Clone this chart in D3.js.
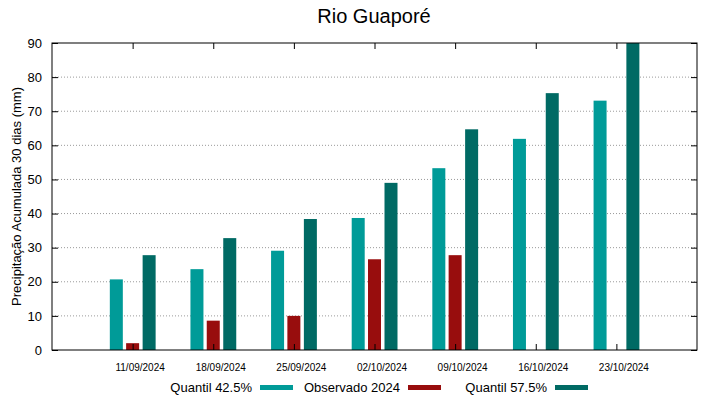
<!DOCTYPE html>
<html>
<head>
<meta charset="utf-8">
<script src="https://cdn.jsdelivr.net/npm/d3@7"></script>
<style>
  body { margin: 0; background: #fff; }
  text { font-family: "Liberation Sans", Arial, sans-serif; fill: #000; }
</style>
</head>
<body>
<script>
// categorias (datas) e séries
const datas = ['11/09/2024', '18/09/2024', '25/09/2024', '02/10/2024', '09/10/2024', '16/10/2024', '23/10/2024']
const quantil425 = [20.7, 23.7, 29.1, 38.7, 53.3, 61.9, 73.1]
const observado = [2.0, 8.6, 10.0, 26.6, 27.8, null, null]
const quantil575 = [27.8, 32.8, 38.4, 49.0, 64.7, 75.3, 90.0]
const yTicks = [0, 10, 20, 30, 40, 50, 60, 70, 80, 90]

const series = [
  { nome: 'Quantil 42.5%', valores: quantil425, cor: '#009b98', off: -16.3 },
  { nome: 'Observado 2024', valores: observado, cor: '#980d0d', off: 0 },
  { nome: 'Quantil 57.5%', valores: quantil575, cor: '#006a64', off: 16.5 },
]

const width = 719
const height = 399
const m = { left: 52, right: 22, top: 43, bottom: 49 }

const svg = d3.select('body').append('svg').attr('width', width).attr('height', height)

const x = d3.scaleLinear().domain([-1, 7]).range([m.left, width - m.right])
const y = d3.scaleLinear().domain([0, 90]).range([height - m.bottom, m.top])

const clip = svg.append('clipPath').attr('id', 'clip')
  .append('rect')
  .attr('x', m.left).attr('y', m.top)
  .attr('width', width - m.left - m.right).attr('height', height - m.top - m.bottom)

// grade pontilhada
svg.append('g')
  .selectAll('line')
  .data(yTicks.filter((t) => t > 0 && t < 90))
  .enter()
  .append('line')
  .attr('x1', m.left).attr('x2', width - m.right)
  .attr('y1', (d) => y(d)).attr('y2', (d) => y(d))
  .attr('stroke', '#9a9a9a')
  .attr('stroke-width', 1)
  .attr('stroke-dasharray', '1,2')

// barras
const bw = 13
series.forEach((s) => {
  svg.append('g')
    .attr('clip-path', 'url(#clip)')
    .selectAll('rect')
    .data(s.valores.map((v, i) => ({ v, i })).filter((d) => d.v != null))
    .enter()
    .append('rect')
    .attr('x', (d) => x(d.i) + s.off - bw / 2)
    .attr('width', bw)
    .attr('y', (d) => y(d.v))
    .attr('height', (d) => y(0) - y(d.v))
    .attr('fill', s.cor)
})

// eixos
const yLeft = svg.append('g')
  .attr('transform', `translate(${m.left},0)`)
  .call(d3.axisLeft(y).tickValues(yTicks).tickSize(-6).tickPadding(10))
const yRight = svg.append('g')
  .attr('transform', `translate(${width - m.right},0)`)
  .call(d3.axisRight(y).tickValues(yTicks).tickSize(-6).tickFormat(''))
const xBottom = svg.append('g')
  .attr('transform', `translate(0,${height - m.bottom})`)
  .call(d3.axisBottom(x).tickValues(d3.range(datas.length)).tickSize(-6).tickFormat((i) => datas[i]).tickPadding(14))
const xTop = svg.append('g')
  .attr('transform', `translate(0,${m.top})`)
  .call(d3.axisTop(x).tickValues(d3.range(datas.length)).tickSize(-6).tickFormat(''))

;[yLeft, yRight, xBottom, xTop].forEach((g) => {
  g.select('.domain').remove()
  g.selectAll('line').attr('stroke', '#000')
})
yLeft.selectAll('text').attr('font-size', 13).style('font-family', '"Liberation Sans", Arial, sans-serif')
xBottom.selectAll('text').attr('font-size', 10).attr('dx', 7).style('font-family', '"Liberation Sans", Arial, sans-serif')

// moldura
svg.append('rect')
  .attr('x', m.left).attr('y', m.top)
  .attr('width', width - m.left - m.right).attr('height', height - m.top - m.bottom)
  .attr('fill', 'none').attr('stroke', '#000').attr('stroke-width', 1)

// título
svg.append('text')
  .attr('x', 374).attr('y', 23)
  .attr('text-anchor', 'middle')
  .attr('font-size', 20)
  .text('Rio Guaporé')

svg.append('text')
  .attr('transform', `translate(21,${(m.top + height - m.bottom) / 2}) rotate(-90)`)
  .attr('text-anchor', 'middle')
  .attr('font-size', 13)
  .text('Precipitação Acumulada 30 dias (mm)')

// legenda
const legX = [252, 400, 547]
series.forEach((s, i) => {
  svg.append('text')
    .attr('x', legX[i]).attr('y', 392)
    .attr('text-anchor', 'end')
    .attr('font-size', 13)
    .text(s.nome)
  svg.append('rect')
    .attr('x', legX[i] + 8).attr('y', 385)
    .attr('width', 33).attr('height', 5)
    .attr('fill', s.cor)
})
</script>
</body>
</html>
